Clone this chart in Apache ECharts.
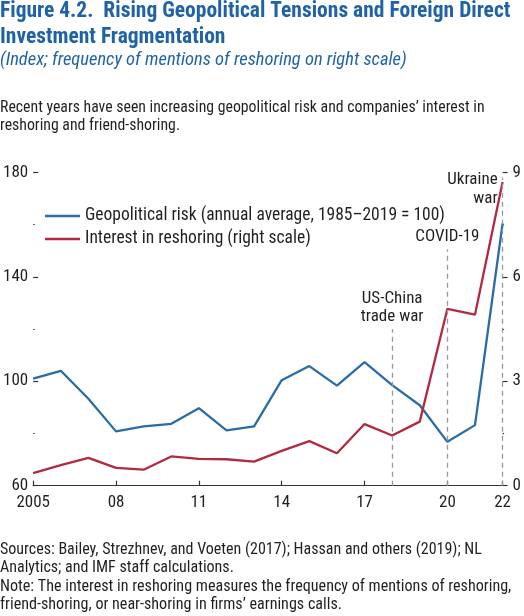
<!DOCTYPE html>
<html><head><meta charset="utf-8">
<script src="https://cdn.jsdelivr.net/npm/echarts@6/dist/echarts.min.js"></script>
<style>html,body{margin:0;padding:0;background:#fff}#c{width:524px;height:616px}</style>
</head><body><div id="c"></div>
<script>
const years = ['2005','2006','2007','2008','2009','2010','2011','2012','2013','2014','2015','2016','2017','2018','2019','2020','2021','2022'];
const geoRisk = [101.0,104.0,93.3,80.8,82.7,83.7,89.7,81.2,82.7,100.4,105.8,98.3,107.3,98.5,90.8,76.8,83.2,160.4];
const reshoring = [0.36,0.59,0.80,0.51,0.46,0.84,0.77,0.76,0.69,1.00,1.28,0.93,1.77,1.44,1.84,5.08,4.91,8.72];
const tickYears = ['2005','2008','2011','2014','2017','2020','2022'];
const events = [
  {year:'2018', top:120, label:'US-China\ntrade war'},
  {year:'2020', top:150.5, label:'COVID-19'},
  {year:'2022', top:178, label:'Ukraine\nwar'}
];
const FONT = "'Liberation Sans Narrow','Arial Narrow','Roboto Condensed','DejaVu Sans Condensed',sans-serif";
const BLUE = '#2a6ca8', RED = '#b22a40', TXT = '#231f20', TITLE = '#1f63a6';
const showTick = (i) => tickYears.includes(years[i]);
const chart = echarts.init(document.getElementById('c'));
const line = (s, y, font, fill) => ({type:'text', x:0, y:y, style:{text:s, font:font+' '+FONT, fill:fill||TXT, verticalAlign:'middle'}});
const texts = [
  line('Figure 4.2.  Rising Geopolitical Tensions and Foreign Direct', 11.5, 'bold 21.5px', TITLE),
  line('Investment Fragmentation', 38, 'bold 21.5px', TITLE),
  line('(Index; frequency of mentions of reshoring on right scale)', 60.5, 'italic 18.5px', TITLE),
  line('Recent years have seen increasing geopolitical risk and companies\u2019 interest in', 108.5, '15.8px'),
  line('reshoring and friend-shoring.', 126, '15.8px'),
  line('Sources: Bailey, Strezhnev, and Voeten (2017); Hassan and others (2019); NL', 549.5, '16px'),
  line('Analytics; and IMF staff calculations.', 567.5, '16px'),
  line('Note: The interest in reshoring measures the frequency of mentions of reshoring,', 586.5, '16.1px'),
  line('friend-shoring, or near-shoring in firms\u2019 earnings calls.', 605, '16.1px')
];
const markLines = events.map(e => [
  {coord:[e.year, 60]},
  {coord:[e.year, e.top], label: e.year === '2022' ? {show:false} : {show:true, position:'end', distance:3, formatter:e.label, color:TXT, fontSize:17, lineHeight:18.5, fontFamily:FONT}}
]);
const ukr = events[2];
chart.setOption({
  animation:false,
  textStyle:{fontFamily:FONT},
  graphic: texts,
  grid:{left:30.6, right:19, top:172.3, bottom:130.3, containLabel:false},
  legend:{
    orient:'vertical', left:40, top:202, itemWidth:35, itemHeight:2.5, itemGap:5, icon:'rect',
    textStyle:{fontSize:17.5, color:TXT, fontFamily:FONT, lineHeight:16},
    data:['Geopolitical risk (annual average, 1985\u20132019 = 100)','Interest in reshoring (right scale)']
  },
  xAxis:{
    type:'category', data:years, boundaryGap:false,
    axisLine:{lineStyle:{color:'#333', width:1.2}},
    axisTick:{inside:true, length:5, interval:(i)=>showTick(i), lineStyle:{color:'#333', width:1.2}},
    axisLabel:{interval:(i)=>showTick(i), margin:9, fontSize:17, color:TXT, fontFamily:FONT,
      formatter:(v)=> v==='2005' ? v : v.slice(2)}
  },
  yAxis:[
    {type:'value', min:60, max:180, interval:40, position:'left',
      axisLine:{show:false}, splitLine:{show:false},
      axisTick:{show:true, inside:true, length:5, lineStyle:{color:'#333', width:1.2}},
      minorTick:{show:true, splitNumber:2, length:1.5, lineStyle:{color:'#333', width:1.2}},
      axisLabel:{margin:5, fontSize:17, color:TXT, fontFamily:FONT}},
    {type:'value', min:0, max:9, interval:3, position:'right',
      axisLine:{show:false}, splitLine:{show:false},
      axisTick:{show:true, length:5, lineStyle:{color:'#333', width:1.2}},
      minorTick:{show:true, splitNumber:2, length:1.5, lineStyle:{color:'#333', width:1.2}},
      axisLabel:{margin:10, fontSize:17, color:TXT, fontFamily:FONT}}
  ],
  series:[
    {name:'Geopolitical risk (annual average, 1985\u20132019 = 100)', type:'line', data:geoRisk, yAxisIndex:0,
      symbol:'none', lineStyle:{color:BLUE, width:2.3}, itemStyle:{color:BLUE}, z:3,
      markLine:{silent:true, symbol:'none', animation:false,
        lineStyle:{color:'#999', type:[5,4], width:1.3}, data:markLines},
      markPoint:{symbol:'rect', symbolSize:0, silent:true,
        data:[{coord:[ukr.year, 180], value:0,
          label:{show:true, position:'left', distance:5, offset:[0,17], align:'right', formatter:ukr.label,
            color:TXT, fontSize:17, lineHeight:18.5, fontFamily:FONT}}]}},
    {name:'Interest in reshoring (right scale)', type:'line', data:reshoring, yAxisIndex:1,
      symbol:'none', lineStyle:{color:RED, width:2.3}, itemStyle:{color:RED}, z:4}
  ]
});
</script></body></html>
